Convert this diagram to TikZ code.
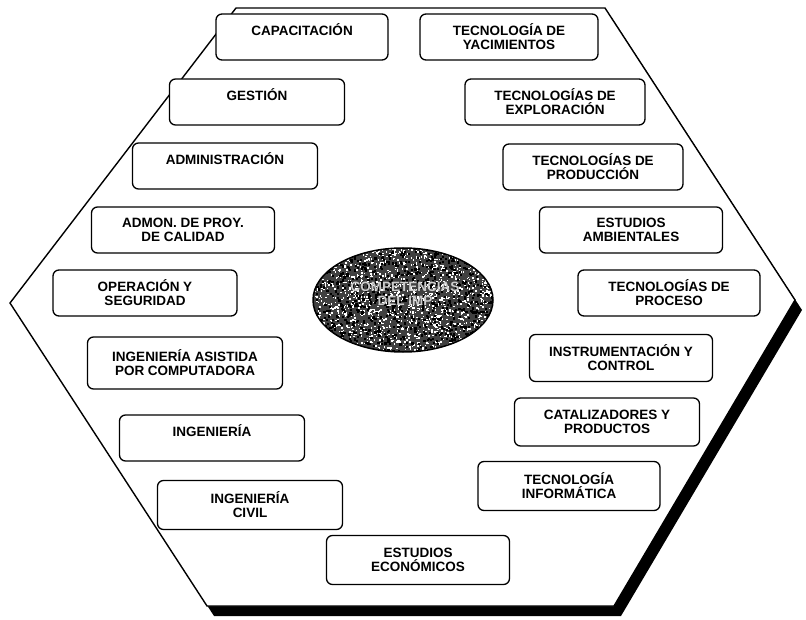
\documentclass[tikz,border=0pt]{standalone}
\usepackage{fontspec}
\setmainfont{Liberation Sans}
\usetikzlibrary{shapes.geometric}
\begin{document}
\begin{tikzpicture}[x=1pt,y=-1pt,
  area/.style={draw=black, line width=1.3pt, rounded corners=6pt, fill=white,
    minimum width=#1, minimum height=46pt, align=center, inner sep=0pt,
    font=\fontsize{13.5}{14}\selectfont\bfseries},
  area/.default=180pt,
  frame/.style={draw=black, line width=1.4pt, fill=white, line join=miter},
  shade/.style={fill=black}]
\useasboundingbox (0,0) rectangle (806,620);

% hexagon outline with its drop shadow
\coordinate (tl) at (236,8);
\coordinate (tr) at (605,8);
\coordinate (r)  at (795,300);
\coordinate (br) at (614,606);
\coordinate (bl) at (207,606);
\coordinate (l)  at (10,303);
\fill[shade] ([shift={(7,10)}]tl) -- ([shift={(7,10)}]tr) -- ([shift={(7,10)}]r)
  -- ([shift={(7,10)}]br) -- ([shift={(7,10)}]bl) -- ([shift={(7,10)}]l) -- cycle;
\draw[frame] (tl) -- (tr) -- (r) -- (br) -- (bl) -- (l) -- cycle;

% left column of competences
\node[area=172pt] (cap) at (302,37) {CAPACITACIÓN\\\phantom{X}};
\node[area=175pt] (ges) at (257,102) {GESTIÓN\\\phantom{X}};
\node[area=185pt] (adm) at (225,166) {ADMINISTRACIÓN\\\phantom{X}};
\node[area=183pt] (pry) at (183,230) {ADMON. DE PROY.\\DE CALIDAD};
\node[area=184pt] (ops) at (145,293) {OPERACIÓN Y\\SEGURIDAD};
\node[area=195pt, minimum height=52pt] (iac) at (185,363) {INGENIERÍA ASISTIDA\\POR COMPUTADORA};
\node[area=185pt] (ing) at (212,438) {INGENIERÍA\\\phantom{X}};
\node[area=185pt, minimum height=49pt] (civ) at (250,505) {INGENIERÍA\\CIVIL};

% right column of competences
\node[area=178pt] (yac) at (509,37) {TECNOLOGÍA DE\\YACIMIENTOS};
\node[area=180pt] (exp) at (555,102) {TECNOLOGÍAS DE\\EXPLORACIÓN};
\node[area=180pt] (pro) at (593,167) {TECNOLOGÍAS DE\\PRODUCCIÓN};
\node[area=183pt] (amb) at (631,230) {ESTUDIOS\\AMBIENTALES};
\node[area=182pt] (prc) at (669,293) {TECNOLOGÍAS DE\\PROCESO};
\node[area=183pt, minimum height=47pt] (ins) at (621,358) {INSTRUMENTACIÓN Y\\CONTROL};
\node[area=185pt, minimum height=48pt] (cat) at (607,422) {CATALIZADORES Y\\PRODUCTOS};
\node[area=182pt, minimum height=49pt] (inf) at (569,486) {TECNOLOGÍA\\INFORMÁTICA};
\node[area=183pt, minimum height=49pt] (eco) at (418,560) {ESTUDIOS\\ECONÓMICOS};

% central ellipse with a speckled fill
\node[ellipse, fill=black!75, minimum width=180pt, minimum height=104pt, inner sep=0pt] (core) at (403,300) {};
\begin{scope}
  \clip (403,300) ellipse [x radius=90, y radius=52];
  \pgfmathsetseed{7}
  \foreach \i in {1,...,1600} {
    \pgfmathsetmacro\px{403+90*rand}
    \pgfmathsetmacro\py{300+52*rand}
    \fill[white] (\px,\py) rectangle +(1.5,1.5);
  }
  \foreach \i in {1,...,900} {
    \pgfmathsetmacro\px{403+90*rand}
    \pgfmathsetmacro\py{300+52*rand}
    \fill[black] (\px,\py) rectangle +(2.2,2.2);
  }
\end{scope}
\draw[line width=1.5pt] (core.center) ellipse [x radius=90, y radius=52];
\node[align=center, text=white!80!black, font=\fontsize{13.5}{14}\selectfont\bfseries] (corelabel) at (405,294) {COMPETENCIAS\\DEL IMP};
\end{tikzpicture}
\end{document}
